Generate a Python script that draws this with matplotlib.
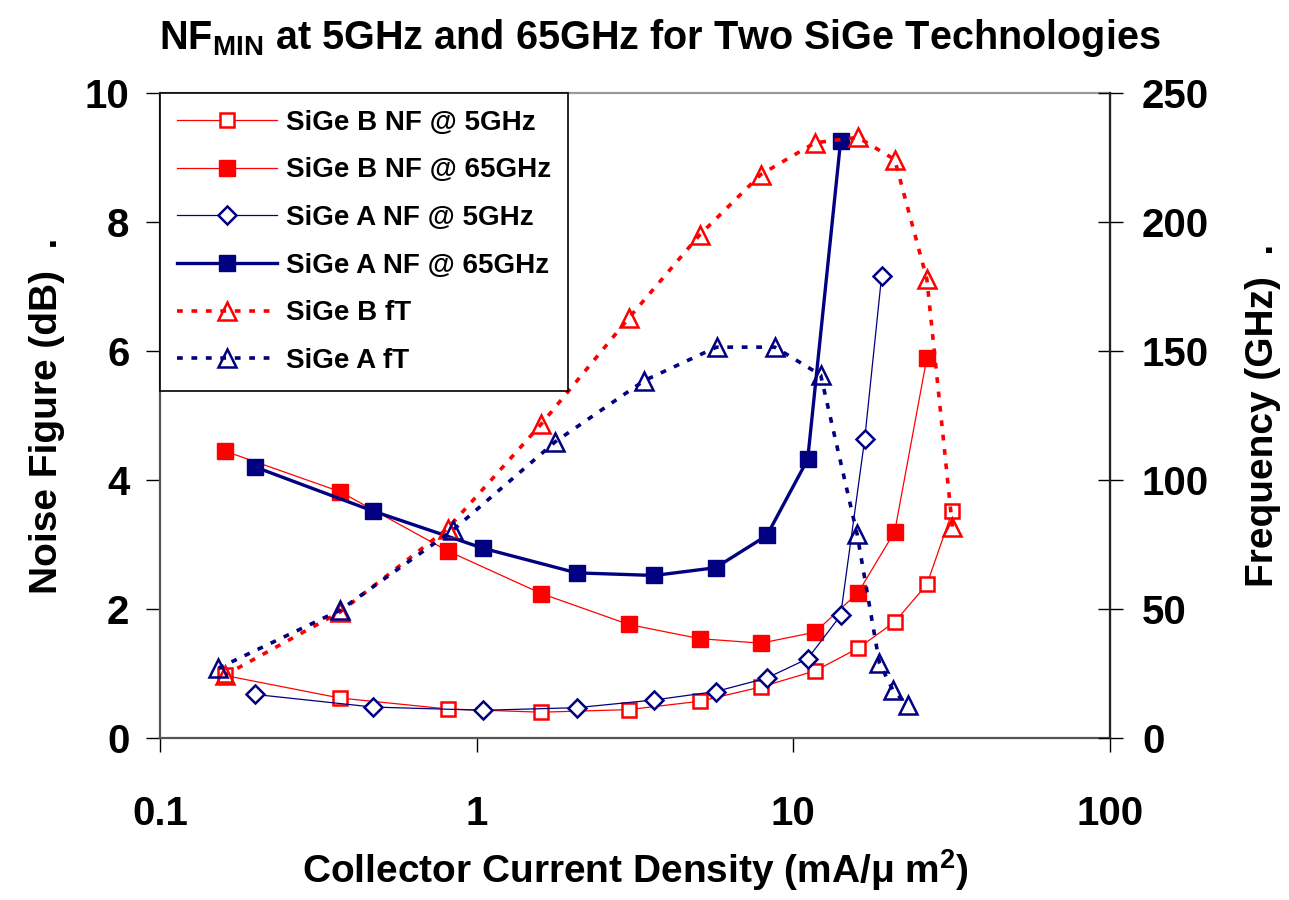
import matplotlib
matplotlib.use("Agg")
import matplotlib.pyplot as plt

# SiGe B: collector current density (mA/um^2) and measured values
b_x = [0.16, 0.37, 0.81, 1.6, 3.02, 5.07, 7.89, 11.7, 16.0, 20.9, 26.4, 31.8]
b_nf5 = [0.97, 0.62, 0.45, 0.40, 0.44, 0.57, 0.79, 1.04, 1.39, 1.80, 2.38, 3.52]
b_nf65 = [4.45, 3.82, 2.90, 2.24, 1.76, 1.54, 1.47, 1.64, 2.25, 3.20, 5.89]
b_ft = [24.3, 48.8, 81.2, 121.7, 162.7, 195.1, 218.4, 230.7, 232.8, 224.2, 177.9, 81.8]

# SiGe A
a_x = [0.2, 0.47, 1.05, 2.07, 3.64, 5.68, 8.25, 11.1, 14.1, 16.8, 19.0]
a_nf5 = [0.675, 0.48, 0.43, 0.47, 0.59, 0.72, 0.93, 1.23, 1.90, 4.63, 7.16]
a_nf65 = [4.20, 3.52, 2.94, 2.56, 2.52, 2.64, 3.14, 4.32, 9.25]
a_ft_x = [0.153, 0.37, 0.84, 1.77, 3.38, 5.72, 8.74, 12.2, 15.9, 18.7, 20.6, 23.0]
a_ft = [27.1, 49.5, 80.5, 114.8, 138.5, 151.5, 151.5, 140.7, 79.0, 29.0, 18.7, 12.6]

x_ticks = [0.1, 1, 10, 100]
x_ticklabels = ["0.1", "1", "10", "100"]
nf_ticks = [0, 2, 4, 6, 8, 10]
f_ticks = [0, 50, 100, 150, 200, 250]

FONT = ["Liberation Sans", "DejaVu Sans"]
RED = "#ff0000"
NAVY = "#000080"

plt.rcParams["font.family"] = FONT
plt.rcParams["font.weight"] = "bold"
plt.rcParams["axes.labelweight"] = "bold"
plt.rcParams["mathtext.fontset"] = "custom"
plt.rcParams["mathtext.rm"] = "Liberation Sans:bold"
plt.rcParams["mathtext.it"] = "Liberation Sans:bold"
plt.rcParams["mathtext.bf"] = "Liberation Sans:bold"

fig = plt.figure(figsize=(12.89, 9.0), dpi=100)
ax = fig.add_axes([160 / 1289, 1 - 738 / 900, 950 / 1289, 645 / 900])
ax2 = ax.twinx()

dash = (0, (1.6, 2.4))

h1, = ax.plot(b_x, b_nf5, color=RED, lw=0.9, marker="s", ms=10.5, mfc="white",
              mec=RED, mew=1.8, label="SiGe B NF @ 5GHz")
h2, = ax.plot(b_x[:len(b_nf65)], b_nf65, color=RED, lw=0.9, marker="s", ms=11.5,
              mfc=RED, mec=RED, label="SiGe B NF @ 65GHz")
h3, = ax.plot(a_x, a_nf5, color=NAVY, lw=0.9, marker="D", ms=9, mfc="white",
              mec=NAVY, mew=1.8, label="SiGe A NF @ 5GHz")
h4, = ax.plot(a_x[:len(a_nf65)], a_nf65, color=NAVY, lw=2.4, marker="s", ms=11.5,
              mfc=NAVY, mec=NAVY, label="SiGe A NF @ 65GHz")
h5, = ax2.plot(b_x, b_ft, color=RED, lw=2.6, ls=dash, marker="^", ms=12.5,
               mfc="none", mec=RED, mew=1.8, label="SiGe B fT")
h6, = ax2.plot(a_ft_x, a_ft, color=NAVY, lw=2.6, ls=dash, marker="^", ms=12.5,
               mfc="none", mec=NAVY, mew=1.8, label="SiGe A fT")

ax.set_xscale("log")
ax.set_xlim(0.1, 100)
ax.set_ylim(0, 10)
ax2.set_ylim(0, 250)
ax.set_xticks(x_ticks)
ax.set_xticklabels(x_ticklabels)
ax.xaxis.set_minor_locator(matplotlib.ticker.NullLocator())
ax.set_yticks(nf_ticks)
ax2.set_yticks(f_ticks)

ax.tick_params(axis="x", direction="out", length=10, width=1, labelsize=29, pad=31)
ax.tick_params(axis="y", direction="out", length=10, width=1, labelsize=29, pad=12)
ax2.tick_params(axis="y", direction="inout", length=18, width=1, labelsize=29, pad=14)

for s in ["left", "bottom"]:
    ax.spines[s].set_color("#555555")
    ax.spines[s].set_linewidth(1.6)
ax.spines["top"].set_color("#999999")
ax.spines["top"].set_linewidth(1.6)
ax2.spines["right"].set_color("#222222")
ax2.spines["right"].set_linewidth(1.6)
for s in ["left", "bottom", "top"]:
    ax2.spines[s].set_visible(False)

ax.set_xlabel("Collector Current Density (mA/\u03bc m$^2$)", fontsize=28, labelpad=10)
ax.set_ylabel("Noise Figure (dB)  .", fontsize=28, labelpad=14)
ax2.set_ylabel("Frequency (GHz)  .", fontsize=28, labelpad=26)
fig.text(0.512, 0.958, "NF$_{\\rm MIN}$ at 5GHz and 65GHz for Two SiGe Technologies",
         fontsize=28.5, fontweight="bold", ha="center", va="center")

leg = ax2.legend(handles=[h1, h2, h3, h4, h5, h6], loc="upper left",
                 bbox_to_anchor=(0, 1), borderaxespad=0, fancybox=False,
                 framealpha=1, edgecolor="black", handlelength=3.6,
                 handletextpad=0.35, labelspacing=0.78, borderpad=0.6,
                 prop={"family": FONT, "weight": "bold", "size": 20})
leg.get_frame().set_linewidth(1.2)

fig.savefig("out.png", dpi=100)
